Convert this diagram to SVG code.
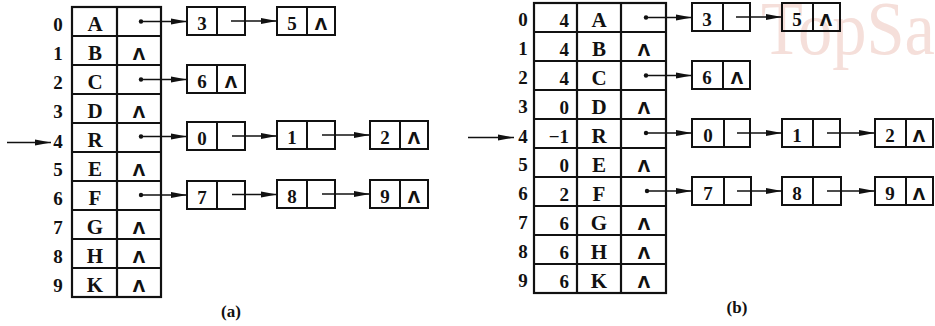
<svg xmlns="http://www.w3.org/2000/svg" width="935" height="326" viewBox="0 0 935 326">
<style>
.bg{fill:#ffffff}
.tbl{fill:none;stroke:#111;stroke-width:2.2}
.box{fill:none;stroke:#111;stroke-width:2}
.idx{font-family:"Liberation Serif",serif;font-weight:bold;font-size:19px;text-anchor:middle;fill:#111}
.cnt{font-family:"Liberation Serif",serif;font-weight:bold;font-size:19px;text-anchor:end;fill:#111}
.let{font-family:"Liberation Serif",serif;font-weight:bold;font-size:21px;text-anchor:middle;fill:#111}
.num{font-family:"Liberation Serif",serif;font-weight:bold;font-size:19px;text-anchor:middle;fill:#111}
.lam{font-family:"DejaVu Sans",sans-serif;font-weight:bold;font-size:16px;text-anchor:middle;fill:#111}
.cap{font-family:"Liberation Serif",serif;font-weight:bold;font-size:17px;text-anchor:middle;fill:#111}
.arr{stroke:#111;stroke-width:1.7;fill:none;marker-end:url(#ah)}
.dot{fill:#111}
.wm{font-family:"Liberation Serif",serif;font-size:76px;fill:#f5dfda}
</style>
<defs>
<marker id="ah" viewBox="0 0 16 7" refX="16" refY="3.5" markerWidth="16" markerHeight="7" markerUnits="userSpaceOnUse" orient="auto">
<path d="M0,0.5 L16,3.5 L0,6.5 Z" fill="#111"/>
</marker>
</defs>
<rect class="bg" x="0" y="0" width="935" height="326"/>
<text class="wm" x="761" y="54" textLength="174" lengthAdjust="spacingAndGlyphs">TopSa</text>

<!-- Panel (a) table -->
<g id="a-table">
<rect class="tbl" x="72" y="7" width="89" height="290"/>
<path class="tbl" d="M117,7V297M72,36H161M72,65H161M72,94H161M72,123H161M72,152H161M72,181H161M72,210H161M72,239H161M72,268H161"/>
<g id="a-row0"><text class="idx" x="58" y="31">0</text><text class="let" x="95" y="30.5">A</text></g>
<g id="a-row1"><text class="idx" x="58" y="60">1</text><text class="let" x="95" y="59.5">B</text><text class="lam" x="139" y="59.5">Λ</text></g>
<g id="a-row2"><text class="idx" x="58" y="89">2</text><text class="let" x="95" y="88.5">C</text></g>
<g id="a-row3"><text class="idx" x="58" y="118">3</text><text class="let" x="95" y="117.5">D</text><text class="lam" x="139" y="117.5">Λ</text></g>
<g id="a-row4"><text class="idx" x="58" y="148">4</text><text class="let" x="95" y="146.5">R</text></g>
<g id="a-row5"><text class="idx" x="58" y="176">5</text><text class="let" x="95" y="175.5">E</text><text class="lam" x="139" y="175.5">Λ</text></g>
<g id="a-row6"><text class="idx" x="58" y="205">6</text><text class="let" x="95" y="204.5">F</text></g>
<g id="a-row7"><text class="idx" x="58" y="234">7</text><text class="let" x="95" y="233.5">G</text><text class="lam" x="139" y="233.5">Λ</text></g>
<g id="a-row8"><text class="idx" x="58" y="263">8</text><text class="let" x="95" y="262.5">H</text><text class="lam" x="139" y="262.5">Λ</text></g>
<g id="a-row9"><text class="idx" x="58" y="292">9</text><text class="let" x="95" y="291.5">K</text><text class="lam" x="139" y="291.5">Λ</text></g>
</g>

<!-- Panel (a) list nodes -->
<g id="a-n0-3"><rect class="box" x="187" y="7" width="58" height="28"/><path class="box" d="M217,7V35"/><text class="num" x="202" y="29.5">3</text></g>
<g id="a-n0-5"><rect class="box" x="277" y="7" width="58" height="28"/><path class="box" d="M307,7V35"/><text class="num" x="292" y="29.5">5</text><text class="lam" x="321" y="29.5">Λ</text></g>
<g id="a-n2-6"><rect class="box" x="187" y="65" width="58" height="28"/><path class="box" d="M217,65V93"/><text class="num" x="202" y="87.5">6</text><text class="lam" x="231" y="87.5">Λ</text></g>
<g id="a-n4-0"><rect class="box" x="187" y="122" width="58" height="28"/><path class="box" d="M217,122V150"/><text class="num" x="202" y="144.5">0</text></g>
<g id="a-n4-1"><rect class="box" x="277" y="121" width="58" height="28"/><path class="box" d="M307,121V149"/><text class="num" x="292" y="143.5">1</text></g>
<g id="a-n4-2"><rect class="box" x="370" y="121" width="58" height="28"/><path class="box" d="M400,121V149"/><text class="num" x="385" y="143.5">2</text><text class="lam" x="414" y="143.5">Λ</text></g>
<g id="a-n6-7"><rect class="box" x="187" y="181" width="58" height="28"/><path class="box" d="M217,181V209"/><text class="num" x="202" y="203.5">7</text></g>
<g id="a-n6-8"><rect class="box" x="277" y="180" width="58" height="28"/><path class="box" d="M307,180V208"/><text class="num" x="292" y="202.5">8</text></g>
<g id="a-n6-9"><rect class="box" x="370" y="180" width="58" height="28"/><path class="box" d="M400,180V208"/><text class="num" x="385" y="202.5">9</text><text class="lam" x="414" y="202.5">Λ</text></g>
<text class="cap" x="231" y="317">(a)</text>

<!-- Panel (b) table -->
<g id="b-table">
<rect class="tbl" x="534" y="3" width="132" height="290"/>
<path class="tbl" d="M577,3V293M621,3V293M534,32H666M534,61H666M534,90H666M534,119H666M534,148H666M534,177H666M534,206H666M534,235H666M534,264H666"/>
<g id="b-row0"><text class="idx" x="523" y="26">0</text><text class="cnt" x="569" y="27">4</text><text class="let" x="599" y="26.5">A</text></g>
<g id="b-row1"><text class="idx" x="523" y="55">1</text><text class="cnt" x="569" y="56">4</text><text class="let" x="599" y="55.5">B</text><text class="lam" x="644" y="55.5">Λ</text></g>
<g id="b-row2"><text class="idx" x="523" y="84">2</text><text class="cnt" x="569" y="85">4</text><text class="let" x="599" y="84.5">C</text></g>
<g id="b-row3"><text class="idx" x="523" y="113">3</text><text class="cnt" x="569" y="114">0</text><text class="let" x="599" y="113.5">D</text><text class="lam" x="644" y="113.5">Λ</text></g>
<g id="b-row4"><text class="idx" x="523" y="143">4</text><text class="cnt" x="569" y="143">−1</text><text class="let" x="599" y="142.5">R</text></g>
<g id="b-row5"><text class="idx" x="523" y="171">5</text><text class="cnt" x="569" y="172">0</text><text class="let" x="599" y="171.5">E</text><text class="lam" x="644" y="171.5">Λ</text></g>
<g id="b-row6"><text class="idx" x="523" y="200">6</text><text class="cnt" x="569" y="201">2</text><text class="let" x="599" y="200.5">F</text></g>
<g id="b-row7"><text class="idx" x="523" y="229">7</text><text class="cnt" x="569" y="230">6</text><text class="let" x="599" y="229.5">G</text><text class="lam" x="644" y="229.5">Λ</text></g>
<g id="b-row8"><text class="idx" x="523" y="258">8</text><text class="cnt" x="569" y="259">6</text><text class="let" x="599" y="258.5">H</text><text class="lam" x="644" y="258.5">Λ</text></g>
<g id="b-row9"><text class="idx" x="523" y="287">9</text><text class="cnt" x="569" y="288">6</text><text class="let" x="599" y="287.5">K</text><text class="lam" x="644" y="287.5">Λ</text></g>
</g>

<!-- Panel (b) list nodes -->
<g id="b-n0-3"><rect class="box" x="692" y="3" width="58" height="28"/><path class="box" d="M723,3V31"/><text class="num" x="707" y="25.5">3</text></g>
<g id="b-n0-5"><rect class="box" x="782" y="3" width="58" height="28"/><path class="box" d="M813,3V31"/><text class="num" x="797" y="25.5">5</text><text class="lam" x="826" y="25.5">Λ</text></g>
<g id="b-n2-6"><rect class="box" x="692" y="61" width="58" height="28"/><path class="box" d="M723,61V89"/><text class="num" x="707" y="83.5">6</text><text class="lam" x="737" y="83.5">Λ</text></g>
<g id="b-n4-0"><rect class="box" x="692" y="119" width="58" height="28"/><path class="box" d="M724,119V147"/><text class="num" x="708" y="141.5">0</text></g>
<g id="b-n4-1"><rect class="box" x="782" y="119" width="58" height="28"/><path class="box" d="M813,119V147"/><text class="num" x="797" y="141.5">1</text></g>
<g id="b-n4-2"><rect class="box" x="875" y="119" width="58" height="28"/><path class="box" d="M906,119V147"/><text class="num" x="890" y="141.5">2</text><text class="lam" x="919" y="141.5">Λ</text></g>
<g id="b-n6-7"><rect class="box" x="692" y="177" width="59" height="28"/><path class="box" d="M724,177V205"/><text class="num" x="708" y="199.5">7</text></g>
<g id="b-n6-8"><rect class="box" x="782" y="177" width="59" height="28"/><path class="box" d="M813,177V205"/><text class="num" x="797" y="199.5">8</text></g>
<g id="b-n6-9"><rect class="box" x="875" y="177" width="58" height="28"/><path class="box" d="M906,177V205"/><text class="num" x="890" y="199.5">9</text><text class="lam" x="919" y="199.5">Λ</text></g>
<text class="cap" x="737" y="313">(b)</text>

<!-- Connectors -->
<g id="connectors">
<circle class="dot" cx="141" cy="21.5" r="2.2"/><line class="arr" x1="141" y1="21.5" x2="187" y2="21.5"/>
<line class="arr" x1="231" y1="21" x2="277" y2="21"/>
<circle class="dot" cx="141" cy="79.5" r="2.2"/><line class="arr" x1="141" y1="79.5" x2="187" y2="79.5"/>
<circle class="dot" cx="141" cy="136.5" r="2.2"/><line class="arr" x1="141" y1="136.5" x2="187" y2="136.5"/>
<line class="arr" x1="232" y1="136" x2="277" y2="136"/>
<line class="arr" x1="322" y1="135" x2="370" y2="135"/>
<circle class="dot" cx="141" cy="195" r="2.2"/><line class="arr" x1="141" y1="195" x2="187" y2="195"/>
<line class="arr" x1="232" y1="194.5" x2="277" y2="194.5"/>
<line class="arr" x1="322" y1="194" x2="370" y2="194"/>
<line class="arr" x1="7" y1="142.5" x2="51" y2="142.5"/>

<circle class="dot" cx="646" cy="17.5" r="2.2"/><line class="arr" x1="646" y1="17.5" x2="692" y2="17.5"/>
<line class="arr" x1="736" y1="17" x2="782" y2="17"/>
<circle class="dot" cx="646" cy="75.5" r="2.2"/><line class="arr" x1="646" y1="75.5" x2="692" y2="75.5"/>
<circle class="dot" cx="646" cy="133" r="2.2"/><line class="arr" x1="646" y1="133" x2="692" y2="133"/>
<line class="arr" x1="737" y1="133" x2="782" y2="133"/>
<line class="arr" x1="827" y1="133" x2="875" y2="133"/>
<circle class="dot" cx="647" cy="191" r="2.2"/><line class="arr" x1="647" y1="191" x2="692" y2="191"/>
<line class="arr" x1="737" y1="191" x2="782" y2="191"/>
<line class="arr" x1="827" y1="191" x2="875" y2="191"/>
<line class="arr" x1="468" y1="137.5" x2="514" y2="137.5"/>
</g>
</svg>
